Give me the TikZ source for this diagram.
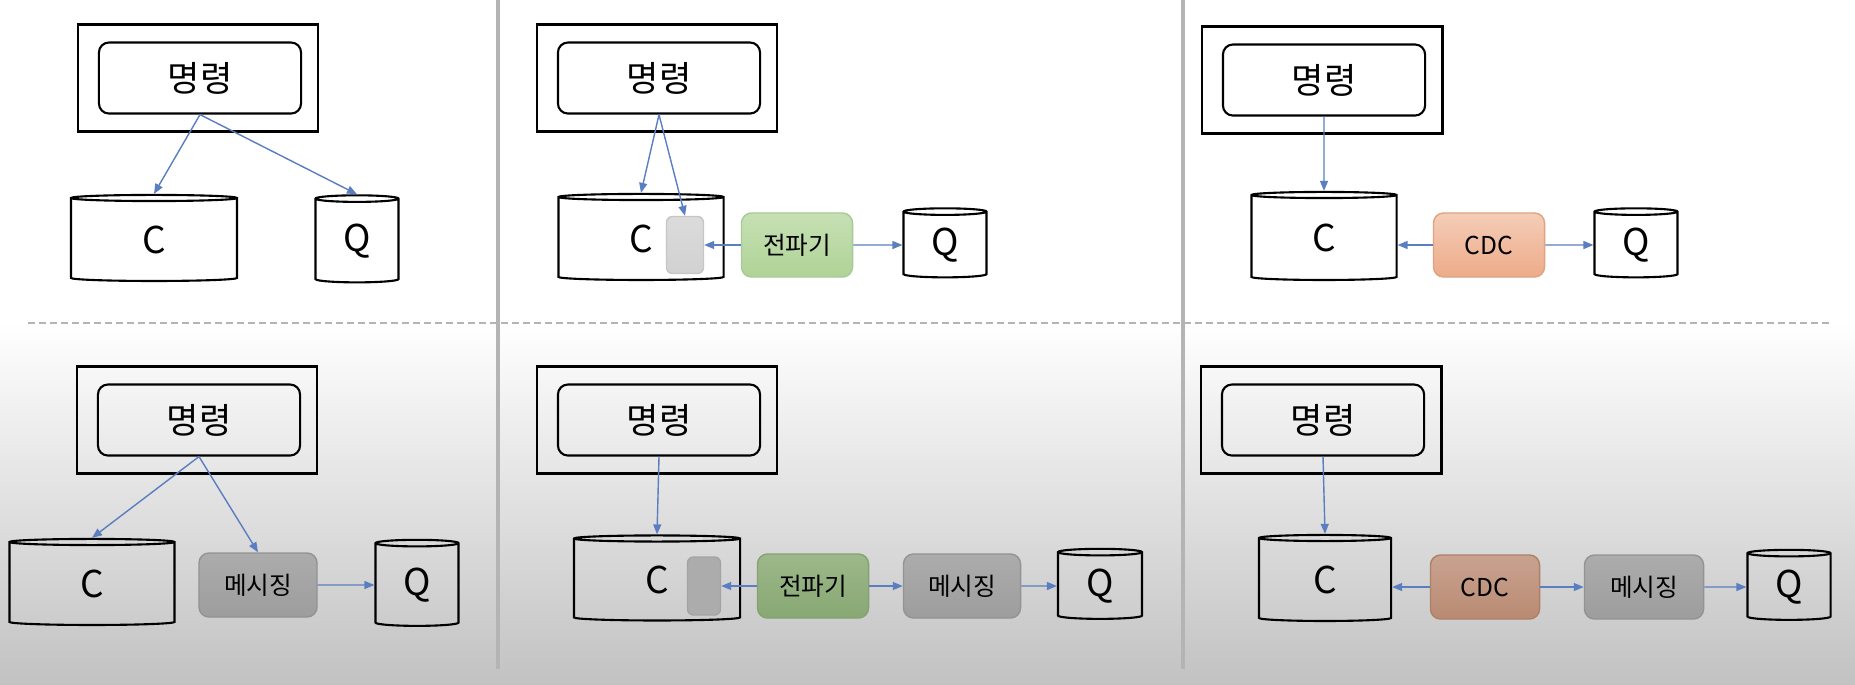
\documentclass[tikz,border=0pt]{standalone}
\usepackage{fontspec}
\setmainfont{Noto Sans CJK KR}
\usetikzlibrary{shapes.geometric,arrows.meta}

\definecolor{linkblue}{HTML}{5A7EC0}
\definecolor{rulegray}{HTML}{B4B4B4}
\definecolor{bgbottom}{HTML}{C2C2C2}
\definecolor{propTop}{HTML}{C6E0B4}
\definecolor{propBot}{HTML}{AFD396}
\definecolor{propLine}{HTML}{A9C99A}
\definecolor{propDkTop}{HTML}{9DB88A}
\definecolor{propDkBot}{HTML}{87A873}
\definecolor{propDkLine}{HTML}{86A274}
\definecolor{cdcTop}{HTML}{F5CDB8}
\definecolor{cdcBot}{HTML}{EDAB88}
\definecolor{cdcLine}{HTML}{DDA484}
\definecolor{cdcDkTop}{HTML}{C9A390}
\definecolor{cdcDkBot}{HTML}{B98A72}
\definecolor{cdcDkLine}{HTML}{AE8068}
\definecolor{msgTop}{HTML}{ACACAC}
\definecolor{msgBot}{HTML}{9D9D9D}
\definecolor{msgLine}{HTML}{939393}

\tikzset{
  cmdframe/.style={draw, line width=0.8pt, minimum width=2.4cm, minimum height=1.07cm},
  cmdbox/.style={draw, rounded corners=0.1cm, line width=0.6pt, minimum width=2.02cm,
    minimum height=0.71cm, font=\fontsize{10}{12}\selectfont},
  store/.style={draw, cylinder, shape border rotate=90, aspect=0.26, line width=0.6pt,
    inner sep=0pt, font=\fontsize{10.5}{12}\selectfont},
  proc/.style={draw, rounded corners=0.1cm, line width=0.4pt, minimum width=1.11cm,
    minimum height=0.64cm, inner sep=0pt, font=\fontsize{7}{8}\selectfont},
  msgbox/.style={proc, top color=msgTop, bottom color=msgBot, draw=msgLine},
  logbox/.style={draw, rounded corners=0.06cm, line width=0.4pt, inner sep=0pt},
  link/.style={draw=linkblue, line width=0.4pt, -{Triangle[length=0.1cm,width=0.08cm]}}
}

\begin{document}
\begin{tikzpicture}[x=0.01cm, y=-0.01cm]
\useasboundingbox (0,0) rectangle (1855,684);
\fill[white] (0,0) rectangle (1855,323);
\shade[top color=white, bottom color=bgbottom] (0,323) rectangle (1855,684);
\draw[rulegray, line width=0.8pt, dash pattern=on 0.07cm off 0.04cm] (28,323) -- (1831,323);
\draw[rulegray, line width=0.9pt] (498,0) -- (498,669);
\draw[rulegray, line width=0.9pt] (1183,0) -- (1183,669);

\foreach \n/\x/\y in {1/198/78, 2/657/78, 3/1322/80, 4/197/420, 5/657/420, 6/1321/420}
  {
  \node[cmdframe] (frame\n) at (\x,\y) {};
  \node[cmdbox] (cmd\n) at (\x+2,\y) {명령};
  }

\node[store, minimum width=1.66cm, minimum height=0.86cm] (c1) at (154,240) {C};
\node[store, minimum width=0.83cm, minimum height=0.87cm, aspect=0.24] (q1) at (357,241) {Q};
\draw[link] (cmd1.south) -- (c1.north);
\draw[link] (cmd1.south) -- (q1.north);

\node[store, minimum width=1.65cm, minimum height=0.86cm] (c2) at (641,239) {C};
\node[logbox, top color=gray!28, bottom color=gray!36, draw=gray!45,
  minimum width=0.37cm, minimum height=0.57cm] (log2) at (685,245) {};
\node[proc, top color=propTop, bottom color=propBot, draw=propLine] (prop2) at (797,245) {전파기};
\node[store, minimum width=0.83cm, minimum height=0.69cm, aspect=0.24] (q2) at (945,245) {Q};
\draw[link] (cmd2.south) -- (c2.north);
\draw[link] (cmd2.south) -- (log2.north);
\draw[link] (prop2) -- (log2);
\draw[link] (prop2) -- (q2);

\node[store, minimum width=1.45cm, minimum height=0.88cm] (c3) at (1324,238) {C};
\node[proc, top color=cdcTop, bottom color=cdcBot, draw=cdcLine] (cdc3) at (1489,245) {CDC};
\node[store, minimum width=0.83cm, minimum height=0.69cm, aspect=0.24] (q3) at (1636,245) {Q};
\draw[link] (cmd3.south) -- (c3.north);
\draw[link] (cdc3.west) -- (cdc3.west -| c3.east);
\draw[link] (cdc3) -- (q3);

\node[store, minimum width=1.65cm, minimum height=0.86cm] (c4) at (92,584) {C};
\node[msgbox, minimum width=1.18cm] (msg4) at (258,585) {메시징};
\node[store, minimum width=0.83cm, minimum height=0.86cm, aspect=0.24] (q4) at (417,585) {Q};
\draw[link] (cmd4.south) -- (c4.north);
\draw[link] (cmd4.south) -- (msg4.north);
\draw[link] (msg4) -- (q4);

\node[store, minimum width=1.66cm, minimum height=0.85cm] (c5) at (657,580) {C};
\node[logbox, fill=gray!65, draw=gray!72, minimum width=0.33cm, minimum height=0.58cm] (log5) at (704,586) {};
\node[proc, top color=propDkTop, bottom color=propDkBot, draw=propDkLine] (prop5) at (813,586) {전파기};
\node[msgbox, minimum width=1.17cm] (msg5) at (962,586) {메시징};
\node[store, minimum width=0.84cm, minimum height=0.70cm, aspect=0.24] (q5) at (1100,586) {Q};
\draw[link] (cmd5.south) -- (c5.north);
\draw[link] (prop5) -- (log5);
\draw[link] (prop5) -- (msg5);
\draw[link] (msg5) -- (q5);

\node[store, minimum width=1.32cm, minimum height=0.86cm] (c6) at (1325,580) {C};
\node[proc, minimum width=1.09cm, top color=cdcDkTop, bottom color=cdcDkBot, draw=cdcDkLine] (cdc6) at (1485,587) {CDC};
\node[msgbox, minimum width=1.19cm] (msg6) at (1644,587) {메시징};
\node[store, minimum width=0.83cm, minimum height=0.70cm, aspect=0.24] (q6) at (1789,587) {Q};
\draw[link] (cmd6.south) -- (c6.north);
\draw[link] (cdc6.west) -- (cdc6.west -| c6.east);
\draw[link] (cdc6) -- (msg6);
\draw[link] (msg6) -- (q6);
\end{tikzpicture}
\end{document}
